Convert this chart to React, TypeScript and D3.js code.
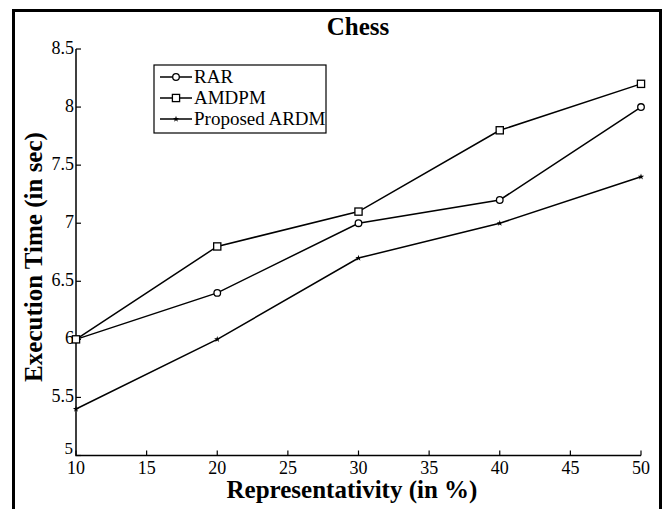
import React from "react";
import * as d3 from "d3";

const representativity = [10, 20, 30, 40, 50];
const rarTimes = [6.0, 6.4, 7.0, 7.2, 8.0];
const amdpmTimes = [6.0, 6.8, 7.1, 7.8, 8.2];
const ardmTimes = [5.4, 6.0, 6.7, 7.0, 7.4];
const xTicks = [10, 15, 20, 25, 30, 35, 40, 45, 50];
const yTicks = [5, 5.5, 6, 6.5, 7, 7.5, 8, 8.5];
const seriesNames = ["RAR", "AMDPM", "Proposed ARDM"];

const W = 667;
const H = 509;
const FONT = "'Liberation Serif', 'Times New Roman', serif";

type Marker = "circle" | "square" | "star";

function MarkerShape({ kind, x, y }: { kind: Marker; x: number; y: number }) {
  if (kind === "circle")
    return <circle cx={x} cy={y} r={3.3} fill="white" stroke="black" strokeWidth={1.3} />;
  if (kind === "square")
    return <rect x={x - 3.6} y={y - 3.6} width={7.2} height={7.2} fill="white" stroke="black" strokeWidth={1.3} />;
  return <path d={d3.symbol(d3.symbolStar, 12)() || ""} transform={`translate(${x},${y})`} fill="black" />;
}

export default function App() {
  const x = d3.scaleLinear().domain([10, 50]).range([76, 641]);
  const y = d3.scaleLinear().domain([5, 8.5]).range([455.5, 49]);

  const series: { name: string; values: number[]; marker: Marker }[] = [
    { name: seriesNames[0], values: rarTimes, marker: "circle" },
    { name: seriesNames[1], values: amdpmTimes, marker: "square" },
    { name: seriesNames[2], values: ardmTimes, marker: "star" },
  ];

  const line = d3
    .line<number>()
    .x((_, i) => x(representativity[i]))
    .y((v) => y(v));

  const legendX = 154;
  const legendY = 65;

  return (
    <svg
      width={W}
      height={H}
      style={{ position: "absolute", left: 0, top: 0, background: "white" }}
      fontFamily={FONT}
    >
      <rect x={0} y={0} width={W} height={H} fill="white" />
      {/* outer frame */}
      <path d={`M13.5,${H + 5} V10.5 H660.5 V${H + 5}`} fill="none" stroke="black" strokeWidth={3} />

      <text x={358} y={35} textAnchor="middle" fontSize={25} fontWeight="bold">
        Chess
      </text>

      {/* axes */}
      <path d={`M${x(10)},${y(8.5)} V${y(5)} H${x(50)}`} fill="none" stroke="black" strokeWidth={1.5} />
      {xTicks.map((t) => (
        <g key={`x${t}`}>
          <line x1={x(t)} x2={x(t)} y1={y(5)} y2={y(5) - 5} stroke="black" strokeWidth={1.2} />
          <text x={x(t)} y={y(5) + 18} textAnchor="middle" fontSize={18}>
            {t}
          </text>
        </g>
      ))}
      {yTicks.map((t) => (
        <g key={`y${t}`}>
          <line x1={x(10)} x2={x(10) + 5} y1={y(t)} y2={y(t)} stroke="black" strokeWidth={1.2} />
          <text
            x={x(10) - (t === 5 ? 3 : 2)}
            y={y(t) + (t === 5 ? -2 : 5)}
            textAnchor="end"
            fontSize={t === 5 ? 17 : 18}
          >
            {t}
          </text>
        </g>
      ))}

      <text x={352} y={498} textAnchor="middle" fontSize={25} fontWeight="bold">
        Representativity (in %)
      </text>
      <text
        transform={`translate(42,257) rotate(-90)`}
        textAnchor="middle"
        fontSize={25}
        fontWeight="bold"
      >
        Execution Time (in sec)
      </text>

      {/* series */}
      {series.map((s) => (
        <g key={s.name}>
          <path d={line(s.values) || ""} fill="none" stroke="black" strokeWidth={1.5} />
          {s.values.map((v, i) => (
            <MarkerShape key={i} kind={s.marker} x={x(representativity[i])} y={y(v)} />
          ))}
        </g>
      ))}

      {/* legend */}
      <rect x={legendX} y={legendY} width={172} height={68} fill="white" stroke="black" strokeWidth={1.2} />
      {series.map((s, i) => {
        const ly = legendY + 12 + i * 21;
        return (
          <g key={`leg${s.name}`}>
            <line x1={legendX + 6} x2={legendX + 38} y1={ly} y2={ly} stroke="black" strokeWidth={1.5} />
            <MarkerShape kind={s.marker} x={legendX + 22} y={ly} />
            <text x={legendX + 40} y={ly + 6} fontSize={19}>
              {s.name}
            </text>
          </g>
        );
      })}
    </svg>
  );
}
